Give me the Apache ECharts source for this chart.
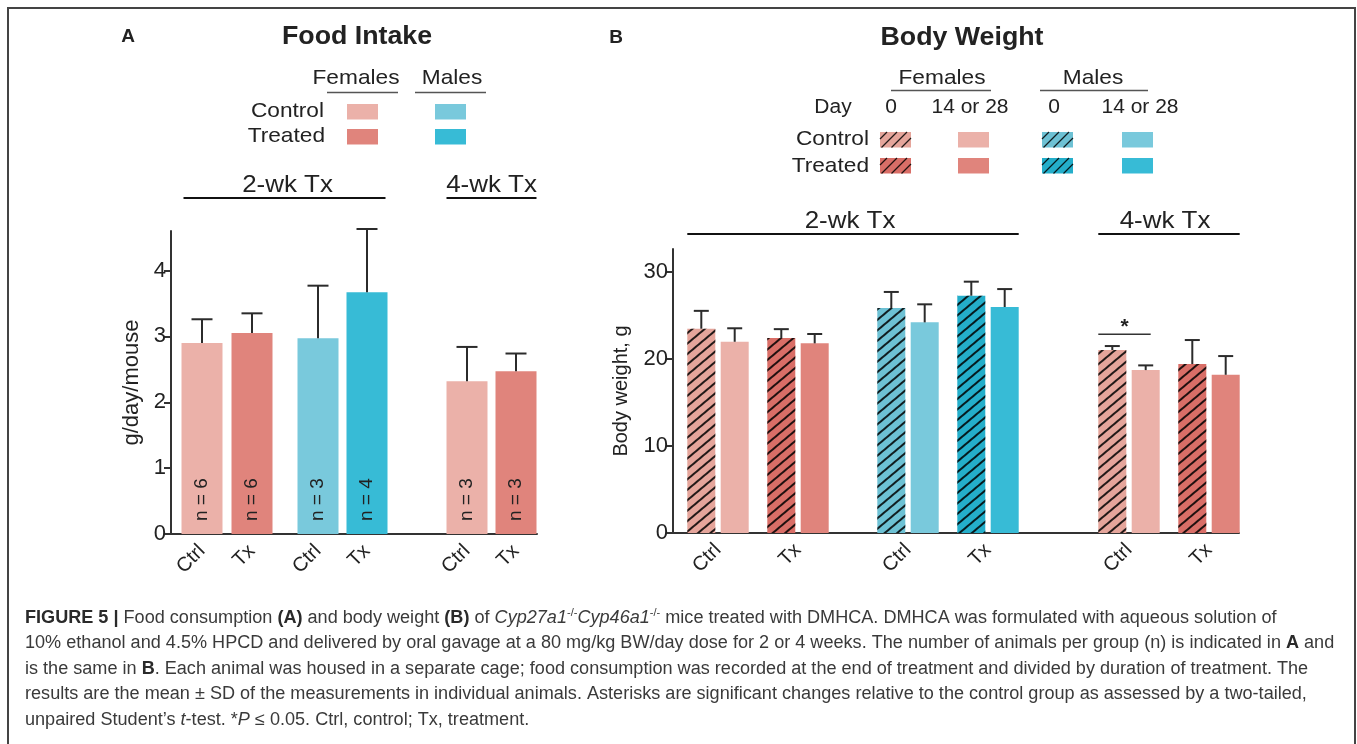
<!DOCTYPE html>
<html>
<head>
<meta charset="utf-8">
<script src="https://cdn.jsdelivr.net/npm/echarts@6/dist/echarts.min.js"></script>
<style>
  html, body { margin: 0; padding: 0; background: #fff; }
  #chart { width: 1357px; height: 744px; }
</style>
</head>
<body>
<div id="chart"></div>
<script>
// ---------- Panel A: food intake (g/day/mouse) ----------
const intakeTicks = ['Ctrl', 'Tx', 'Ctrl', 'Tx', 'Ctrl', 'Tx'];
const intakeSex   = ['F', 'F', 'M', 'M', 'F', 'F'];
const intakeArm   = ['ctrl', 'tx', 'ctrl', 'tx', 'ctrl', 'tx'];
const intakeMean  = [2.90, 3.05, 2.97, 3.67, 2.32, 2.47];
const intakeSD    = [0.36, 0.30, 0.80, 0.96, 0.52, 0.27];
const intakeN     = [6, 6, 3, 4, 3, 3];
const intakeYTicks = [0, 1, 2, 3, 4];

// ---------- Panel B: body weight (g) ----------
const weightTicks  = ['Ctrl', 'Tx', 'Ctrl', 'Tx', 'Ctrl', 'Tx'];
const weightSex    = ['F', 'F', 'M', 'M', 'F', 'F'];
const weightArm    = ['ctrl', 'tx', 'ctrl', 'tx', 'ctrl', 'tx'];
const weightDay0   = [23.45, 22.38, 25.83, 27.24, 21.00, 19.39];
const weightDay0SD = [2.05, 1.02, 1.84, 1.61, 0.46, 2.76];
const weightEnd    = [21.95, 21.77, 24.18, 25.94, 18.70, 18.16];
const weightEndSD  = [1.55, 1.07, 2.07, 2.06, 0.54, 2.15];
const weightYTicks = [0, 10, 20, 30];
// significant day-0 vs end comparison (group index, bracket level in g)
const weightSignif = [{ group: 4, level: 22.8, mark: '*' }];

// ---------- layout ----------
// slot centres along each x axis (axis units), grouped as 2-wk / 4-wk blocks
const intakeSlots = [31, 81, 147, 196, 296, 345];
const intakeXMax = 366;
const weightSlots = [45, 125, 235, 315, 456, 536];
const weightXMax = 566;
const pairOffset = 16.7;

const FONT = 'Liberation Sans, Arial, sans-serif';
const INK = '#222';
const AXIS = '#333';

const fillEnd  = { F: { ctrl: '#EBB1A9', tx: '#E0847C' }, M: { ctrl: '#79C9DC', tx: '#37BBD6' } };
const fillDay0 = { F: { ctrl: '#E5A59B', tx: '#D96E67' }, M: { ctrl: '#6DC1D4', tx: '#24AECA' } };
const hatch = {
  symbol: 'rect', symbolSize: 1,
  dashArrayX: [1, 0], dashArrayY: [1.3, 5.2],
  rotation: -Math.PI / 4.5,
  color: 'rgba(0,0,0,0.85)'
};

function errorBars(xi, yi, points, capHalf) {
  return {
    type: 'custom', xAxisIndex: xi, yAxisIndex: yi, z: 5, clip: false,
    data: points,
    renderItem(params, api) {
      const x = api.value(0), m = api.value(1), s = api.value(2);
      const a = api.coord([x, m]), b = api.coord([x, m + s]);
      const st = { stroke: '#2b2b2b', lineWidth: 2 };
      return { type: 'group', children: [
        { type: 'line', shape: { x1: a[0], y1: a[1], x2: b[0], y2: b[1] }, style: st },
        { type: 'line', shape: { x1: b[0] - capHalf, y1: b[1], x2: b[0] + capHalf, y2: b[1] }, style: st }
      ]};
    }
  };
}

const intakeBars = intakeMean.map((v, i) => ({
  value: [intakeSlots[i], v],
  itemStyle: { color: fillEnd[intakeSex[i]][intakeArm[i]] }
}));

const weightBars = [];
const weightErr = [];
weightSlots.forEach((c, i) => {
  const s = weightSex[i], a = weightArm[i];
  weightBars.push({ value: [c - pairOffset, weightDay0[i]],
    itemStyle: { color: fillDay0[s][a], decal: hatch } });
  weightBars.push({ value: [c + pairOffset, weightEnd[i]],
    itemStyle: { color: fillEnd[s][a] } });
  weightErr.push([c - pairOffset, weightDay0[i], weightDay0SD[i]]);
  weightErr.push([c + pairOffset, weightEnd[i], weightEndSD[i]]);
});

function xAxis(grid, max, slots, ticks) {
  return {
    type: 'value', gridIndex: grid, min: 0, max: max,
    axisLine: { show: true, onZero: false, lineStyle: { color: AXIS, width: 2 } },
    axisTick: { show: false }, splitLine: { show: false },
    axisLabel: {
      customValues: slots, rotate: 45, margin: 14,
      fontSize: 20, fontFamily: FONT, color: INK,
      formatter: v => ticks[slots.indexOf(v)] || ''
    }
  };
}
function yAxis(grid, max, ticks, name, gap, size) {
  return {
    type: 'value', gridIndex: grid, min: 0, max: max,
    axisLine: { show: true, lineStyle: { color: AXIS, width: 2 } },
    axisTick: { show: true, customValues: ticks, length: 7, lineStyle: { color: AXIS, width: 2 } },
    axisLabel: { customValues: ticks, fontSize: 22, fontFamily: FONT, color: INK, margin: 5 },
    splitLine: { show: false },
    name: name, nameLocation: 'middle', nameGap: gap,
    nameTextStyle: { fontSize: size, fontFamily: FONT, color: INK }
  };
}

const chart = echarts.init(document.getElementById('chart'), null, { renderer: 'canvas' });

chart.setOption({
  animation: false,
  backgroundColor: '#fff',
  grid: [
    { left: 171, top: 231, width: 366, height: 303 },
    { left: 673, top: 249, width: 566, height: 284 }
  ],
  xAxis: [
    xAxis(0, intakeXMax, intakeSlots, intakeTicks),
    xAxis(1, weightXMax, weightSlots, weightTicks)
  ],
  yAxis: [
    yAxis(0, 4.6, intakeYTicks, 'g/day/mouse', 28, 22),
    yAxis(1, 32.6, weightYTicks, 'Body weight, g', 42, 20)
  ],
  series: [
    {
      type: 'bar', xAxisIndex: 0, yAxisIndex: 0, barWidth: 41,
      data: intakeBars,
      label: {
        show: true, position: 'insideBottom', distance: 13,
        rotate: 90, align: 'left', verticalAlign: 'middle',
        fontSize: 19, fontFamily: FONT, color: INK,
        formatter: p => 'n = ' + intakeN[p.dataIndex]
      }
    },
    errorBars(0, 0, intakeMean.map((v, i) => [intakeSlots[i], v, intakeSD[i]]), 10.5),
    {
      type: 'bar', xAxisIndex: 1, yAxisIndex: 1, barWidth: 28,
      data: weightBars
    },
    errorBars(1, 1, weightErr, 7.5),
    {
      type: 'custom', xAxisIndex: 1, yAxisIndex: 1, z: 6, clip: false,
      data: weightSignif.map(s => [weightSlots[s.group] - pairOffset, weightSlots[s.group] + pairOffset, s.level]),
      renderItem(params, api) {
        const p0 = api.coord([api.value(0), api.value(2)]);
        const p1 = api.coord([api.value(1), api.value(2)]);
        const x0 = p0[0] - 14, x1 = p1[0] + 5;
        return { type: 'group', children: [
          { type: 'line', shape: { x1: x0, y1: p0[1], x2: x1, y2: p0[1] }, style: { stroke: '#333', lineWidth: 1.5 } },
          { type: 'text', x: (x0 + x1) / 2, y: p0[1] - 7,
            style: { text: weightSignif[params.dataIndex].mark, fontSize: 21, fontWeight: 'bold',
                     fontFamily: FONT, fill: INK, align: 'center', verticalAlign: 'middle' } }
        ]};
      }
    }
  ]
});

// ---------- decorations: titles, legends, group headers, caption ----------
function txt(x, y, text, size, o) {
  o = o || {};
  return { type: 'text', x: x, y: y, scaleX: o.sx || 1, z: 10,
    style: { text: text, fontSize: size, fontFamily: FONT, fontWeight: o.bold ? 'bold' : 'normal',
             fill: o.fill || INK, align: o.align || 'center', verticalAlign: 'middle', rich: o.rich } };
}
function hline(x1, x2, y, w, c) {
  return { type: 'line', z: 10, shape: { x1: x1, y1: y, x2: x2, y2: y }, style: { stroke: c || '#222', lineWidth: w || 2 } };
}
function swatch(x, y, w, h, color, hatched) {
  const els = [{ type: 'rect', z: 10, shape: { x: x, y: y, width: w, height: h }, style: { fill: color } }];
  if (hatched) {
    // "/" strokes: x + y = c, clipped to the swatch
    for (let c = x + y + 7; c < x + w + y + h; c += 10) {
      let xa = Math.max(x, c - y - h), xb = Math.min(x + w, c - y);
      if (xb - xa < 1) continue;
      els.push({ type: 'line', z: 11, shape: { x1: xa, y1: c - xa, x2: xb, y2: c - xb },
                 style: { stroke: 'rgba(0,0,0,0.85)', lineWidth: 1.3 } });
    }
  }
  return els;
}

const px = (axis, v) => chart.convertToPixel({ xAxisIndex: axis }, v);

const g = [];
// frame
g.push({ type: 'rect', z: 0, shape: { x: 8, y: 8, width: 1347, height: 760 },
         style: { fill: 'none', stroke: '#444', lineWidth: 2 } });

// Panel A heading + legend
g.push(txt(128, 37, 'A', 19, { bold: true }));
g.push(txt(357, 37, 'Food Intake', 25, { bold: true, sx: 1.07 }));
g.push(txt(356, 78, 'Females', 21, { sx: 1.08 }));
g.push(txt(452, 78, 'Males', 21, { sx: 1.08 }));
g.push(hline(327, 398, 92.5, 1.5, '#555'));
g.push(hline(415, 486, 92.5, 1.5, '#555'));
g.push(txt(324, 111, 'Control', 21, { align: 'right', sx: 1.08 }));
g.push(txt(325, 136, 'Treated', 21, { align: 'right', sx: 1.08 }));
g.push(...swatch(347, 104, 31, 15.5, fillEnd.F.ctrl));
g.push(...swatch(347, 129, 31, 15.5, fillEnd.F.tx));
g.push(...swatch(435, 104, 31, 15.5, fillEnd.M.ctrl));
g.push(...swatch(435, 129, 31, 15.5, fillEnd.M.tx));

// Panel A group headers spanning the bars
{
  const h = 20.5;
  const l0 = px(0, intakeSlots[0]) - h, r0 = px(0, intakeSlots[3]) + h;
  const l1 = px(0, intakeSlots[4]) - h, r1 = px(0, intakeSlots[5]) + h;
  g.push(hline(l0 + 2, r0 - 2, 198, 2.2, '#111'));
  g.push(hline(l1, r1, 198, 2.2, '#111'));
  g.push(txt((l0 + r0) / 2 + 3, 185, '2-wk Tx', 24, { sx: 1.08 }));
  g.push(txt((l1 + r1) / 2, 185, '4-wk Tx', 24, { sx: 1.08 }));
}

// Panel B heading + legend
g.push(txt(616, 38, 'B', 19, { bold: true }));
g.push(txt(962, 38, 'Body Weight', 25, { bold: true, sx: 1.07 }));
g.push(txt(942, 78, 'Females', 21, { sx: 1.08 }));
g.push(txt(1093, 78, 'Males', 21, { sx: 1.08 }));
g.push(hline(891, 991, 90.5, 1.5, '#555'));
g.push(hline(1040, 1148, 90.5, 1.5, '#555'));
g.push(txt(833, 107, 'Day', 20, { sx: 1.05 }));
g.push(txt(891, 107, '0', 20, { sx: 1.05 }));
g.push(txt(970, 107, '14 or 28', 20, { sx: 1.05 }));
g.push(txt(1054, 107, '0', 20, { sx: 1.05 }));
g.push(txt(1140, 107, '14 or 28', 20, { sx: 1.05 }));
g.push(txt(869, 139, 'Control', 21, { align: 'right', sx: 1.08 }));
g.push(txt(869, 166.5, 'Treated', 21, { align: 'right', sx: 1.08 }));
g.push(...swatch(880, 132, 31, 15.5, fillDay0.F.ctrl, true));
g.push(...swatch(958, 132, 31, 15.5, fillEnd.F.ctrl));
g.push(...swatch(1042, 132, 31, 15.5, fillDay0.M.ctrl, true));
g.push(...swatch(1122, 132, 31, 15.5, fillEnd.M.ctrl));
g.push(...swatch(880, 158, 31, 15.5, fillDay0.F.tx, true));
g.push(...swatch(958, 158, 31, 15.5, fillEnd.F.tx));
g.push(...swatch(1042, 158, 31, 15.5, fillDay0.M.tx, true));
g.push(...swatch(1122, 158, 31, 15.5, fillEnd.M.tx));

// Panel B group headers
{
  const h = 14;
  const l0 = px(1, weightSlots[0] - pairOffset) - h, r0 = px(1, weightSlots[3] + pairOffset) + h;
  const l1 = px(1, weightSlots[4] - pairOffset) - h, r1 = px(1, weightSlots[5] + pairOffset) + h;
  g.push(hline(l0, r0, 234, 2.2, '#111'));
  g.push(hline(l1, r1, 234, 2.2, '#111'));
  g.push(txt((l0 + r0) / 2 - 3, 221, '2-wk Tx', 24, { sx: 1.08 }));
  g.push(txt((l1 + r1) / 2 - 4, 221, '4-wk Tx', 24, { sx: 1.08 }));
}

// Caption
const capRich = {
  b:   { fontWeight: 'bold', fontSize: 18, fontFamily: FONT, fill: '#2a2a2a' },
  i:   { fontStyle: 'italic', fontSize: 18, fontFamily: FONT, fill: '#3a3a3a' },
  sup: { fontSize: 11, fontFamily: FONT, fill: '#3a3a3a', verticalAlign: 'top', lineHeight: 22 }
};
const captionLines = [
  '{b|FIGURE 5 |} Food consumption {b|(A)} and body weight {b|(B)} of {i|Cyp27a1}{sup|-/-}{i|Cyp46a1}{sup|-/-} mice treated with DMHCA. DMHCA was formulated with aqueous solution of',
  '10% ethanol and 4.5% HPCD and delivered by oral gavage at a 80 mg/kg BW/day dose for 2 or 4 weeks. The number of animals per group (n) is indicated in {b|A} and',
  'is the same in {b|B}. Each animal was housed in a separate cage; food consumption was recorded at the end of treatment and divided by duration of treatment. The',
  'results are the mean \u00B1 SD of the measurements in individual animals. Asterisks are significant changes relative to the control group as assessed by a two-tailed,',
  'unpaired Student\u2019s {i|t}-test. *{i|P} \u2264 0.05. Ctrl, control; Tx, treatment.'
];
captionLines.forEach((line, k) => {
  g.push(txt(25, 618 + 25.4 * k, line, 18, { align: 'left', fill: '#3a3a3a', rich: capRich, sx: 1.005 }));
});

chart.setOption({ graphic: { elements: g } });
</script>
</body>
</html>
